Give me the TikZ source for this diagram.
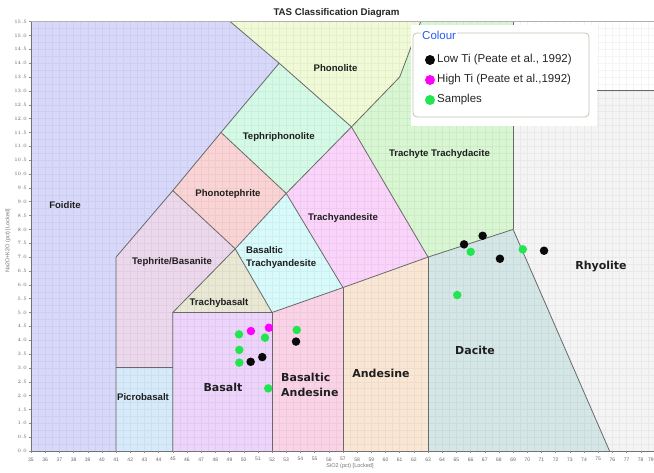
\documentclass[tikz,border=0pt]{standalone}
\usepackage{fontspec}
\setmainfont{Liberation Sans}
\newfontfamily\dejavu{DejaVu Sans}
\definecolor{cFoid}{RGB}{216,216,250}
\definecolor{cPhon}{RGB}{240,250,214}
\definecolor{cTphp}{RGB}{212,250,230}
\definecolor{cPhtp}{RGB}{250,212,212}
\definecolor{cTeph}{RGB}{236,216,236}
\definecolor{cBTra}{RGB}{216,250,250}
\definecolor{cTrAn}{RGB}{250,212,250}
\definecolor{cTrch}{RGB}{216,246,210}
\definecolor{cTrBa}{RGB}{232,232,212}
\definecolor{cPicr}{RGB}{214,234,250}
\definecolor{cBasa}{RGB}{236,212,250}
\definecolor{cBAnd}{RGB}{250,212,230}
\definecolor{cAnd}{RGB}{250,230,212}
\definecolor{cDac}{RGB}{212,230,230}
\definecolor{cRhy}{RGB}{244,244,244}
\definecolor{bnd}{RGB}{105,105,105}
\definecolor{lowTi}{RGB}{10,10,10}
\definecolor{highTi}{RGB}{255,0,255}
\definecolor{sampl}{RGB}{34,230,80}
\definecolor{legblue}{RGB}{40,90,240}
\definecolor{legbord}{RGB}{196,196,180}
\begin{document}
\begin{tikzpicture}[x=1pt,y=1pt,
  border/.style={draw=bnd,line width=0.8pt,line join=round},
  gridline/.style={draw=black,opacity=0.045,line width=0.4pt},
  smalllab/.style={font=\fontsize{9.6}{11}\selectfont\bfseries,text=black!88,inner sep=0pt},
  biglab/.style={font=\dejavu\fontsize{11}{15}\selectfont\bfseries,text=black!88,inner sep=0pt},
  ticklab/.style={font=\fontsize{5}{6}\selectfont,text=black!60,inner sep=0pt},
  axtitle/.style={font=\fontsize{5.5}{6}\selectfont,text=black!55,inner sep=0pt},
  datadot/.style={circle,inner sep=0pt,minimum size=8.5pt,draw=none},
  legdot/.style={circle,inner sep=0pt,minimum size=10pt,draw=none},
  legtext/.style={font=\fontsize{11.5}{13}\selectfont,text=black!85,anchor=west,inner sep=0pt}]
\useasboundingbox (0,0) rectangle (654,473);
\fill[white] (0,0) rectangle (654,473);
% ---------- data frame ----------
\begin{scope}[shift={(-465.3pt,22pt)},x=14.18pt,y=27.7pt]
  \begin{scope}
  \clip (35,0) rectangle (79,15.5);
  \fill[cFoid] (35,0) -- (41,0) -- (41,7) -- (45,9.4) -- (48.4,11.5) -- (52.5,14) -- (49.05,15.5) -- (35,15.5) -- cycle;
  \fill[cPhon] (49.05,15.5) -- (52.5,14) -- (57.6,11.7) -- (61,13.5) -- (62.48,15.5) -- cycle;
  \fill[cTrch] (57.6,11.7) -- (61,13.5) -- (62.48,15.5) -- (69,15.5) -- (69,8) -- (63,7) -- cycle;
  \fill[cTphp] (48.4,11.5) -- (52.5,14) -- (57.6,11.7) -- (53,9.3) -- cycle;
  \fill[cPhtp] (45,9.4) -- (48.4,11.5) -- (53,9.3) -- (49.4,7.3) -- cycle;
  \fill[cTeph] (41,3) -- (41,7) -- (45,9.4) -- (49.4,7.3) -- (45,5) -- (45,3) -- cycle;
  \fill[cPicr] (41,0) -- (41,3) -- (45,3) -- (45,0) -- cycle;
  \fill[cTrBa] (45,5) -- (49.4,7.3) -- (52,5) -- cycle;
  \fill[cBTra] (49.4,7.3) -- (53,9.3) -- (57,5.9) -- (52,5) -- cycle;
  \fill[cTrAn] (53,9.3) -- (57.6,11.7) -- (63,7) -- (57,5.9) -- cycle;
  \fill[cBasa] (45,0) -- (45,5) -- (52,5) -- (52,0) -- cycle;
  \fill[cBAnd] (52,0) -- (52,5) -- (57,5.9) -- (57,0) -- cycle;
  \fill[cAnd] (57,0) -- (57,5.9) -- (63,7) -- (63,0) -- cycle;
  \fill[cDac] (63,0) -- (63,7) -- (69,8) -- (75.8,0) -- cycle;
  \fill[cRhy] (75.8,0) -- (69,8) -- (69,13) -- (79,13) -- (79,0) -- cycle;
  \draw[gridline] (35,0) grid[xstep=0.5,ystep=0.25] (79,15.5);
  % boundaries
  \draw[border] (41,0) -- (41,7) -- (45,9.4) -- (48.4,11.5) -- (52.5,14) -- (49.05,15.5);
  \draw[border] (52.5,14) -- (57.6,11.7) -- (61,13.5) -- (62.48,15.5);
  \draw[border] (48.4,11.5) -- (53,9.3) -- (57.6,11.7);
  \draw[border] (45,9.4) -- (49.4,7.3) -- (53,9.3);
  \draw[border] (41,3) -- (45,3);
  \draw[border] (45,0) -- (45,5) -- (49.4,7.3) -- (52,5);
  \draw[border] (45,5) -- (52,5) -- (57,5.9) -- (63,7) -- (69,8) -- (75.8,0);
  \draw[border] (53,9.3) -- (57,5.9);
  \draw[border] (57.6,11.7) -- (63,7);
  \draw[border] (52,0) -- (52,5);
  \draw[border] (57,0) -- (57,5.9);
  \draw[border] (63,0) -- (63,7);
  \draw[border] (69,8) -- (69,15.5);
  \draw[border] (69,13) -- (79,13);
  \end{scope}
  % axes
  \draw[draw=black!55,line width=0.8pt] (35,15.5) -- (35,0) -- (79,0);
  \draw[draw=black!30,line width=0.8pt] (35,15.5) -- (79,15.5);
  \foreach \s in {35,...,78} {
    \draw[draw=black!45,line width=0.4pt] (\s,0) -- ++(0,-2pt);
    \node[ticklab] (xt\s) at (\s,-0.3) {\s};
  }
  \node[ticklab,anchor=east] (xt79) at (78.93,-0.3) {79};
  \foreach \i in {0,...,31} {
    \pgfmathsetmacro{\aval}{\i/2}
    \draw[draw=black!45,line width=0.4pt] (35,\aval) -- ++(-2pt,0);
    \node[ticklab,anchor=east] (yt\i) at (34.72,\aval) {\pgfmathprintnumber[fixed,fixed zerofill,precision=1]{\aval}};
  }
  % data points
  \node[datadot,fill=sampl] (g1) at (49.67,4.21) {};
  \node[datadot,fill=highTi] (m1) at (50.51,4.33) {};
  \node[datadot,fill=highTi] (m2) at (51.78,4.45) {};
  \node[datadot,fill=sampl] (g2) at (51.50,4.09) {};
  \node[datadot,fill=sampl] (g3) at (53.74,4.37) {};
  \node[datadot,fill=lowTi] (b1) at (53.69,3.95) {};
  \node[datadot,fill=sampl] (g4) at (49.69,3.65) {};
  \node[datadot,fill=lowTi] (b2) at (51.31,3.39) {};
  \node[datadot,fill=lowTi] (b3) at (50.49,3.22) {};
  \node[datadot,fill=sampl] (g5) at (49.69,3.19) {};
  \node[datadot,fill=sampl] (g6) at (51.73,2.26) {};
  \node[datadot,fill=lowTi] (b4) at (65.54,7.46) {};
  \node[datadot,fill=lowTi] (b5) at (66.85,7.77) {};
  \node[datadot,fill=sampl] (g7) at (66.01,7.19) {};
  \node[datadot,fill=lowTi] (b6) at (68.07,6.94) {};
  \node[datadot,fill=sampl] (g8) at (69.68,7.28) {};
  \node[datadot,fill=lowTi] (b7) at (71.18,7.23) {};
  \node[datadot,fill=sampl] (g9) at (65.06,5.63) {};
\end{scope}
% ---------- labels (pixel frame) ----------
\node[font=\fontsize{9.7}{11}\selectfont\bfseries,text=black!85,inner sep=0pt] (title) at (336.5,460) {TAS Classification Diagram};
\node[axtitle] (xtitle) at (350,7) {SiO2 (pct) [Locked]};
\node[axtitle,rotate=90] (ytitle) at (8,232) {Na2O+K2O (pct) [Locked]};
\node[smalllab] (foid) at (65,268) {Foidite};
\node[smalllab] (phon) at (335.5,405) {Phonolite};
\node[smalllab] (tphp) at (278.7,336) {Tephriphonolite};
\node[smalllab] (phtp) at (228,279) {Phonotephrite};
\node[smalllab] (teph) at (172,211.3) {Tephrite/Basanite};
\node[smalllab,align=left,anchor=west,font=\fontsize{9.6}{13}\selectfont\bfseries] (btra) at (246,215.5) {Basaltic\\Trachyandesite};
\node[smalllab] (trba) at (219,170) {Trachybasalt};
\node[smalllab] (tran) at (343,255) {Trachyandesite};
\node[smalllab] (trch) at (439.5,319) {Trachyte Trachydacite};
\node[smalllab] (picr) at (143,76) {Picrobasalt};
\node[biglab] (basa) at (223,86) {Basalt};
\node[biglab,align=left,anchor=west] (band) at (281,88.5) {Basaltic\\Andesine};
\node[biglab] (ande) at (381,100) {Andesine};
\node[biglab] (daci) at (475,123) {Dacite};
\node[biglab] (rhyo) at (601,206) {Rhyolite};
% ---------- legend ----------
\fill[white] (411,347) rectangle (597,448);
\draw[draw=legbord,line width=0.8pt,rounded corners=4pt] (413,356) rectangle (589,440);
\node[fill=white,inner sep=1pt,anchor=west,font=\fontsize{11.5}{13}\selectfont,text=legblue] (legtitle) at (421,438) {Colour};
\node[legdot,fill=lowTi] (ld1) at (430,413) {};
\node[legtext] (lt1) at (437,413) {Low Ti (Peate et al., 1992)};
\node[legdot,fill=highTi] (ld2) at (430,393) {};
\node[legtext] (lt2) at (437,393) {High Ti (Peate et al.,1992)};
\node[legdot,fill=sampl] (ld3) at (430,373) {};
\node[legtext] (lt3) at (437,373) {Samples};
\end{tikzpicture}
\end{document}
